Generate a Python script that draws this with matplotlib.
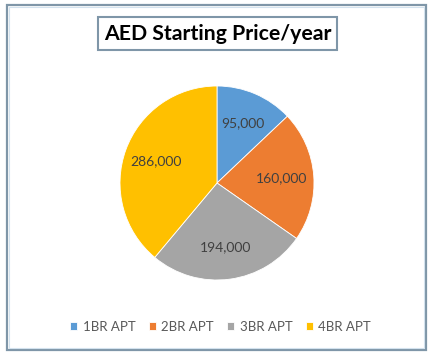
import matplotlib.pyplot as plt
from matplotlib.patches import Rectangle

# data
categories = ["1BR APT", "2BR APT", "3BR APT", "4BR APT"]
prices = [95000, 160000, 194000, 286000]
colors = ["#5B9BD5", "#ED7D31", "#A5A5A5", "#FFC000"]

W, H = 435, 357
fig = plt.figure(figsize=(W / 100, H / 100), dpi=100)
fig.patch.set_facecolor("white")

# outer chart border (double line look)
fig.patches.append(Rectangle((7 / W, 1 - 350 / H), 419 / W, 345 / H, transform=fig.transFigure,
                             fill=False, edgecolor="#7F96A8", linewidth=1.6))
fig.patches.append(Rectangle((9 / W, 1 - 348 / H), 415 / W, 341 / H, transform=fig.transFigure,
                             fill=False, edgecolor="#D3E2EE", linewidth=0.8))

# pie
cx, cy, r = 217, 183, 97
ax = fig.add_axes([(cx - r) / W, 1 - (cy + r) / H, 2 * r / W, 2 * r / H])
wedges, texts = ax.pie(prices, colors=colors, startangle=90, counterclock=False,
                       labels=[f"{v:,}" for v in prices], labeldistance=0.67,
                       wedgeprops=dict(edgecolor="white", linewidth=0.6),
                       textprops=dict(fontsize=10, family="Lato", color="#404040"))
for t in texts:
    t.set_horizontalalignment("center")
    t.set_verticalalignment("center")
ax.set_xlim(-1, 1)
ax.set_ylim(-1, 1)
ax.axis("off")

# title in a box
fig.patches.append(Rectangle((98 / W, 1 - 50 / H), 239 / W, 33 / H, transform=fig.transFigure,
                             facecolor="white", edgecolor="#7F96A8", linewidth=1.5))
fig.text(218 / W, 1 - 34 / H, "AED Starting Price/year", ha="center", va="center",
         fontsize=15.3, fontweight="bold", family="Lato", color="black")

# legend
fig.legend(wedges, categories, loc="center", bbox_to_anchor=(220.5 / W, 1 - 327 / H), ncol=4,
           frameon=False, handlelength=0.55, handleheight=0.55, handletextpad=0.4, columnspacing=1.0,
           prop=dict(family="Lato", size=9.5), labelcolor="#595959")

plt.savefig("out.png", dpi=100)
